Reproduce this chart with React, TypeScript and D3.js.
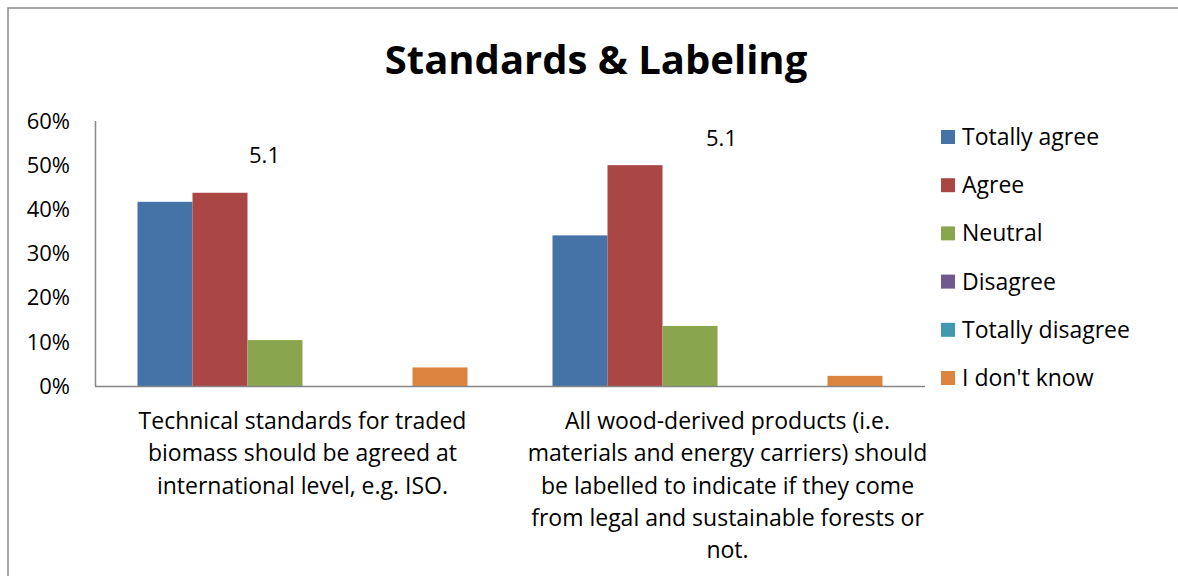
import React, { useEffect } from "react";
import * as d3 from "d3";

const categories: string[][] = [
  ["Technical standards for traded", "biomass should be agreed at", "international level, e.g. ISO."],
  ["All wood-derived products (i.e.", "materials and energy carriers) should", "be labelled to indicate if they come", "from legal and sustainable forests or", "not."],
];
const seriesNames = ["Totally agree", "Agree", "Neutral", "Disagree", "Totally disagree", "I don't know"];
const seriesColors = ["#4572A7", "#AA4643", "#89A54E", "#71588F", "#4198AF", "#DB843D"];
// values per series, [category1, category2]
const totallyAgree = [0.417, 0.341];
const agree = [0.4375, 0.5];
const neutral = [0.104, 0.136];
const disagree = [0, 0];
const totallyDisagree = [0, 0];
const dontKnow = [0.042, 0.023];
const seriesValues = [totallyAgree, agree, neutral, disagree, totallyDisagree, dontKnow];
const yTicks = [0, 0.1, 0.2, 0.3, 0.4, 0.5, 0.6];
const annotations = [
  { cat: 0, text: "5.1", y: 0.522, dx: -38 },
  { cat: 1, text: "5.1", y: 0.561, dx: 4 },
];

const FONT = "'Open Sans', Lato, sans-serif";

export default function App() {
  useEffect(() => {
    document.body.style.margin = "0";
    document.body.style.overflow = "hidden";
  }, []);

  const W = 1178, H = 576;
  const x0 = 95, x1 = 925, yTop = 121, yBot = 386;
  const catIdx = categories.map((_, i) => String(i));
  const xBand = d3.scaleBand<string>().domain(catIdx).range([x0, x1]).padding(0);
  const step = xBand.bandwidth();
  const barW = 55;
  const po = (step / barW - seriesNames.length) / 2;
  const xInner = d3.scaleBand<string>().domain(seriesNames).range([0, step]).paddingInner(0).paddingOuter(po);
  const y = d3.scaleLinear().domain([0, 0.6]).range([yBot, yTop]);
  const fmt = d3.format(".0%");
  const labelDx = [0, 10];
  const lineH = 32.3;
  const legendY = d3.scaleLinear().domain([0, seriesNames.length - 1]).range([137, 378]);

  return (
    <div style={{ position: "fixed", left: 0, top: 0, width: W, height: H, background: "#fff" }}>
      <svg width={W} height={H} style={{ display: "block" }}>
        <rect x={8} y={8} width={1300} height={700} fill="#fff" stroke="#8a8a8a" strokeWidth={1.5} />
        <text x={596} y={74} textAnchor="middle" fontFamily={FONT} fontWeight="bold" fontSize={40} fill="#000">
          Standards &amp; Labeling
        </text>
        {yTicks.map((t) => (
          <text key={t} x={70} y={y(t)} dy="0.35em" textAnchor="end" fontFamily={FONT} fontSize={22} fill="#000">
            {fmt(t)}
          </text>
        ))}
        {seriesValues.map((vals, si) =>
          vals.map((v, ci) =>
            v > 0 ? (
              <rect
                key={si + "-" + ci}
                x={(xBand(String(ci)) as number) + (xInner(seriesNames[si]) as number)}
                y={y(v)}
                width={xInner.bandwidth()}
                height={yBot - y(v)}
                fill={seriesColors[si]}
              />
            ) : null
          )
        )}
        <line x1={x0 + 0.5} x2={x0 + 0.5} y1={yTop} y2={yBot} stroke="#868686" strokeWidth={1.5} />
        <line x1={x0} x2={x1} y1={yBot + 0.5} y2={yBot + 0.5} stroke="#868686" strokeWidth={1.5} />
        {categories.map((lines, ci) => (
          <text key={ci} textAnchor="middle" fontFamily={FONT} fontSize={23} fill="#000">
            {lines.map((ln, li) => (
              <tspan key={li} x={(xBand(String(ci)) as number) + step / 2 + labelDx[ci]} y={421 + li * lineH} dy="0.35em">
                {ln}
              </tspan>
            ))}
          </text>
        ))}
        {annotations.map((a, i) => (
          <text key={i} x={(xBand(String(a.cat)) as number) + step / 2 + a.dx} y={y(a.y)} dy="0.35em" textAnchor="middle" fontFamily={FONT} fontSize={22} fill="#000">
            {a.text}
          </text>
        ))}
        {seriesNames.map((s, i) => (
          <g key={s} transform={`translate(941,${legendY(i)})`}>
            <rect x={0} y={-7} width={14} height={14} fill={seriesColors[i]} />
            <text x={21} y={0} dy="0.35em" fontFamily={FONT} fontSize={23} fill="#000">
              {s}
            </text>
          </g>
        ))}
      </svg>
    </div>
  );
}
